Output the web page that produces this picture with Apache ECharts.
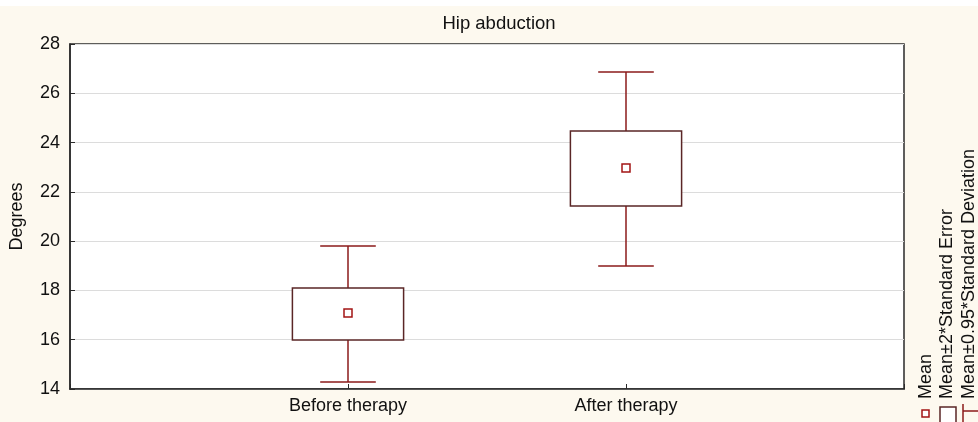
<!DOCTYPE html>
<html>
<head>
<meta charset="utf-8">
<script src="https://cdn.jsdelivr.net/npm/echarts@6/dist/echarts.min.js"></script>
<style>
html,body{margin:0;padding:0;background:#fdf9ef;}
#c{width:978px;height:422px;}
</style>
</head>
<body>
<div id="c"></div>
<script>
// Data
const categories = ['Before therapy', 'After therapy'];
const means = [17.08, 22.97];
const seLow = [15.99, 21.43];
const seHigh = [18.10, 24.47];
const sdLow = [14.28, 18.99];
const sdHigh = [19.80, 26.86];
const yTicks = [14, 16, 18, 20, 22, 24, 26, 28];

const FONT = '"Liberation Sans", Arial, sans-serif';
const boxColor = '#5a2626';
const whiskColor = '#8b1a1a';
const meanColor = '#a31515';

const chart = echarts.init(document.getElementById('c'), null, {renderer: 'canvas'});

const data = categories.map((c, i) => [i + 1, means[i], seLow[i], seHigh[i], sdLow[i], sdHigh[i]]);

function renderItem(params, api) {
  const x = api.value(0);
  const mean = api.value(1), sl = api.value(2), sh = api.value(3), dl = api.value(4), dh = api.value(5);
  const bw = 0.2, cw = 0.1;
  const pL = api.coord([x - bw, sh]);
  const pR = api.coord([x + bw, sl]);
  const pC = api.coord([x, mean]);
  const pDh = api.coord([x, dh]);
  const pDl = api.coord([x, dl]);
  const pSh = api.coord([x, sh]);
  const pSl = api.coord([x, sl]);
  const cL = api.coord([x - cw, dh])[0];
  const cR = api.coord([x + cw, dh])[0];
  const ws = {stroke: whiskColor, lineWidth: 1.5, fill: null};
  return {
    type: 'group',
    children: [
      {type: 'line', shape: {x1: pC[0], y1: pDh[1], x2: pC[0], y2: pSh[1]}, style: ws},
      {type: 'line', shape: {x1: pC[0], y1: pSl[1], x2: pC[0], y2: pDl[1]}, style: ws},
      {type: 'line', shape: {x1: cL, y1: pDh[1], x2: cR, y2: pDh[1]}, style: ws},
      {type: 'line', shape: {x1: cL, y1: pDl[1], x2: cR, y2: pDl[1]}, style: ws},
      {type: 'rect', shape: {x: pL[0], y: pL[1], width: pR[0] - pL[0], height: pR[1] - pL[1]},
        style: {fill: '#fff', stroke: boxColor, lineWidth: 1.5}},
      {type: 'rect', shape: {x: pC[0] - 4, y: pC[1] - 4, width: 8, height: 8},
        style: {fill: '#fff', stroke: meanColor, lineWidth: 1.5}}
    ]
  };
}

const legendTexts = ['Mean', 'Mean±2*Standard Error', 'Mean±0.95*Standard Deviation'];
const legendX = [926, 947, 969];

const option = {
  backgroundColor: '#fdf9ef',
  animation: false,
  title: {
    text: 'Hip abduction',
    left: 494, top: 9, textAlign: 'center',
    textStyle: {fontFamily: FONT, fontSize: 18.5, fontWeight: 'normal', color: '#111'}
  },
  grid: {
    left: 70, right: 74, top: 44, bottom: 33,
    show: true, backgroundColor: '#ffffff', borderColor: '#2a2a2a', borderWidth: 1.5
  },
  xAxis: {
    type: 'value', min: 0, max: 3, interval: 1,
    axisLine: {show: true, lineStyle: {color: '#2a2a2a', width: 1.5}},
    axisTick: {show: true, inside: true, length: 5, lineStyle: {color: '#2a2a2a'}},
    splitLine: {show: false},
    axisLabel: {
      margin: 8, fontFamily: FONT, fontSize: 18, color: '#111',
      formatter: v => categories[v - 1] || ''
    }
  },
  yAxis: {
    type: 'value', min: yTicks[0], max: yTicks[yTicks.length - 1], interval: 2,
    name: 'Degrees', nameLocation: 'middle', nameGap: 44, nameRotate: 90,
    nameTextStyle: {fontFamily: FONT, fontSize: 18, color: '#111'},
    axisLine: {show: true, lineStyle: {color: '#2a2a2a', width: 1.5}},
    axisTick: {show: true, inside: true, length: 5, lineStyle: {color: '#2a2a2a'}},
    splitLine: {show: true, lineStyle: {color: '#dcdcdc', width: 1}},
    axisLabel: {margin: 10, fontFamily: FONT, fontSize: 18, color: '#111'}
  },
  series: [{
    type: 'custom',
    renderItem: renderItem,
    data: data,
    encode: {x: 0, y: [2, 3, 4, 5]},
    clip: false
  }],
  graphic: [
    {type: 'rect', shape: {x: 0, y: 0, width: 978, height: 6}, style: {fill: '#ffffff'}, silent: true},
    ...legendTexts.map((t, i) => ({
      type: 'text', x: legendX[i], y: 399, rotation: Math.PI / 2,
      style: {text: t, fontFamily: FONT, fontSize: 18, fill: '#111', align: 'left', verticalAlign: 'middle'}
    })),
    {type: 'rect', shape: {x: 922, y: 410, width: 7, height: 7}, style: {fill: '#fff', stroke: meanColor, lineWidth: 1.5}},
    {type: 'rect', shape: {x: 940, y: 407, width: 16, height: 18}, style: {fill: '#fff', stroke: boxColor, lineWidth: 1.5}},
    {type: 'line', shape: {x1: 963, y1: 404, x2: 963, y2: 422}, style: {stroke: whiskColor, lineWidth: 1.5}},
    {type: 'line', shape: {x1: 963, y1: 411, x2: 978, y2: 411}, style: {stroke: whiskColor, lineWidth: 1.5}}
  ]
};
chart.setOption(option);
</script>
</body>
</html>
